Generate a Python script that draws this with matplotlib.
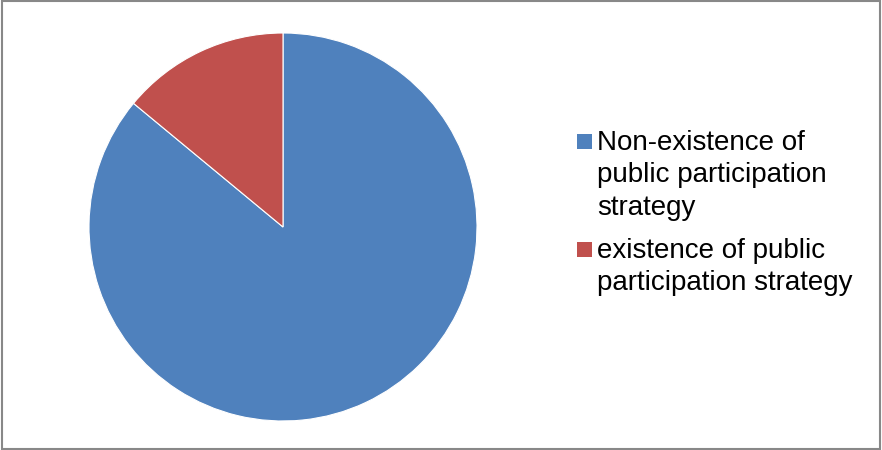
import matplotlib.pyplot as plt
from matplotlib.patches import Rectangle

plt.rcParams['font.family'] = ['Liberation Sans', 'DejaVu Sans']

labels = ['Non-existence of\npublic participation\nstrategy',
          'existence of public\nparticipation strategy']
shares = [86, 14]
colors = ['#4f81bd', '#c0504d']

W, H = 882, 450
fig = plt.figure(figsize=(W / 100, H / 100), dpi=100)
ax = fig.add_axes([89 / W, 29 / H, 388 / W, 388 / H])

wedges, _ = ax.pie(shares, colors=colors, startangle=90, counterclock=False,
                   wedgeprops=dict(edgecolor='white', linewidth=0.8))
ax.set_xlim(-1, 1)
ax.set_ylim(-1, 1)
ax.set_aspect('equal')

# legend drawn by hand: square next to the first line, text wrapped like the original
first_base = [150, 258]   # baseline (px from top) of each entry's first line
line_gap = 32.5
for lab, col, y0 in zip(labels, colors, first_base):
    fig.patches.append(Rectangle((577 / W, 1 - (y0 - 1) / H), 15 / W, 15 / H,
                                 transform=fig.transFigure, facecolor=col, edgecolor='none'))
    for i, line in enumerate(lab.split('\n')):
        fig.text(597 / W, 1 - (y0 + i * line_gap) / H, line, fontsize=20,
                 va='baseline', ha='left', color='black')

# grey border round the chart area
fig.patches.append(Rectangle((0.002, 0.003), 0.996, 0.994, transform=fig.transFigure,
                             fill=False, edgecolor='#888888', linewidth=1.5))

fig.savefig('out.png', dpi=100, facecolor='white')
